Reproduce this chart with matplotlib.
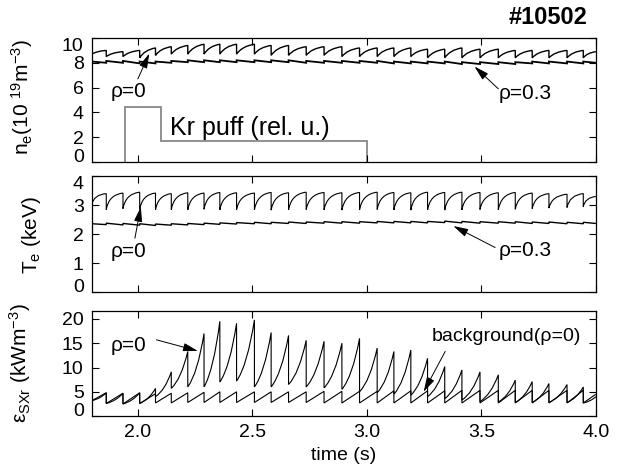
import numpy as np
import matplotlib
matplotlib.use('Agg')
import matplotlib.pyplot as plt
from matplotlib.path import Path
from matplotlib.patches import PathPatch

plt.rcParams['font.family'] = ['Liberation Sans', 'DejaVu Sans']
plt.rcParams['mathtext.fontset'] = 'custom'
plt.rcParams['mathtext.rm'] = 'Liberation Sans'
plt.rcParams['mathtext.it'] = 'Liberation Sans'
NARROW = ['Liberation Sans Narrow', 'Liberation Sans', 'DejaVu Sans']

# sawtooth crash times (s)
crash_t = [1.862, 1.935, 2.008, 2.077, 2.146, 2.218, 2.289, 2.358, 2.431, 2.509,
           2.582, 2.658, 2.735, 2.813, 2.891, 2.968, 3.045, 3.118, 3.192, 3.265,
           3.340, 3.415, 3.494, 3.574, 3.648, 3.722, 3.795, 3.874, 3.945]

# n_e (10^19 m^-3): value before crash / after crash
ne0_pk = [9.0, 8.9, 9.0, 9.2, 9.3, 9.4, 9.5, 9.5, 9.5, 9.5, 9.4, 9.4, 9.3, 9.3, 9.3,
          9.2, 9.2, 9.2, 9.2, 9.1, 9.1, 9.2, 9.1, 9.1, 9.0, 9.0, 9.0, 9.0, 9.0]
ne0_tr = [8.5, 8.5, 8.4, 8.6, 8.7, 8.7, 8.7, 8.7, 8.7, 8.7, 8.6, 8.6, 8.6, 8.6, 8.5,
          8.5, 8.5, 8.5, 8.5, 8.4, 8.4, 8.4, 8.4, 8.4, 8.4, 8.4, 8.4, 8.4, 8.4]
ne03_lo = [8.0, 8.0, 7.95, 7.95, 8.0, 8.05, 8.05, 8.05, 8.05, 8.05, 8.05, 8.05, 8.0, 8.0, 8.0,
           8.0, 8.0, 7.95, 7.95, 7.95, 7.95, 7.9, 7.9, 7.9, 7.9, 7.95, 7.95, 7.95, 7.95]
ne03_hi = [8.15, 8.15, 8.1, 8.1, 8.15, 8.2, 8.2, 8.2, 8.2, 8.2, 8.2, 8.2, 8.15, 8.15, 8.15,
           8.15, 8.15, 8.1, 8.1, 8.1, 8.1, 8.05, 8.05, 8.05, 8.05, 8.1, 8.1, 8.1, 8.1]

# Kr puff (rel. u.)
puff_edges = [1.946, 2.10, 3.0]
puff_level = [4.45, 1.7]

# T_e (keV)
te0_pk = [3.40, 3.42, 3.45, 3.42, 3.40, 3.43, 3.42, 3.44, 3.43, 3.42, 3.44, 3.43, 3.45, 3.44, 3.43,
          3.44, 3.45, 3.44, 3.43, 3.45, 3.44, 3.45, 3.44, 3.43, 3.44, 3.42, 3.40, 3.38, 3.40]
te0_tr = [2.85, 2.88, 2.86, 2.84, 2.85, 2.84, 2.86, 2.84, 2.85, 2.84, 2.83, 2.84, 2.85, 2.84, 2.83,
          2.84, 2.85, 2.84, 2.83, 2.84, 2.83, 2.84, 2.85, 2.84, 2.86, 2.88, 2.90, 2.92, 2.95]
te03_lo = [2.33, 2.32, 2.31, 2.30, 2.31, 2.32, 2.33, 2.34, 2.35, 2.36, 2.36, 2.37, 2.37, 2.38, 2.38,
           2.38, 2.39, 2.39, 2.39, 2.39, 2.40, 2.39, 2.38, 2.38, 2.38, 2.37, 2.37, 2.36, 2.36]
te03_hi = [2.38, 2.37, 2.36, 2.35, 2.36, 2.37, 2.38, 2.39, 2.40, 2.41, 2.41, 2.42, 2.42, 2.43, 2.43,
           2.43, 2.44, 2.44, 2.44, 2.44, 2.45, 2.44, 2.43, 2.43, 2.43, 2.42, 2.42, 2.41, 2.41]

# SXR emissivity (kW m^-3)
sxr_pk = [4.8, 4.7, 4.8, 5.7, 9.1, 13.3, 17.0, 19.5, 19.1, 19.8, 17.2, 16.6, 15.6, 15.4, 15.0,
          16.0, 14.0, 13.3, 13.6, 11.9, 10.2, 9.5, 9.1, 8.5, 7.4, 7.1, 6.7, 6.5, 6.0]
sxr_tr = [2.6, 2.5, 2.6, 4.0, 5.7, 6.0, 6.0, 7.0, 7.2, 6.0, 6.0, 6.5, 6.0, 5.8, 5.5,
          5.0, 4.8, 4.5, 4.3, 4.0, 3.6, 3.3, 3.0, 2.9, 2.8, 2.8, 2.8, 2.8, 2.7]
bg_pk = [4.8, 4.7, 4.8, 4.6, 4.7, 4.8, 4.9, 5.0, 5.0, 5.0, 5.0, 5.0, 5.0, 5.1, 5.1,
         5.1, 5.1, 5.2, 5.2, 5.2, 5.2, 5.3, 5.3, 5.3, 5.3, 5.3, 5.3, 5.3, 5.3]
bg_tr = [2.6, 2.5, 2.6, 2.7, 2.7, 2.8, 2.8, 2.8, 2.8, 2.8, 2.8, 2.8, 2.8, 2.7, 2.7,
         2.7, 2.7, 2.7, 2.7, 2.7, 2.7, 2.7, 2.7, 2.7, 2.7, 2.7, 2.7, 2.7, 2.7]


def saw(ax, start, crash, pk, tr, end, fx=0.5, fy=0.5, lw=0.8):
    # ramp between crashes drawn as a quadratic curve, vertical drop at each crash
    verts = [start]
    codes = [Path.MOVETO]
    pt, pv = start
    for t, p, r in list(zip(crash, pk, tr)) + [(end[0], end[1], None)]:
        verts += [(pt + fx * (t - pt), pv + fy * (p - pv)), (t, p)]
        codes += [Path.CURVE3, Path.CURVE3]
        if r is not None:
            verts.append((t, r))
            codes.append(Path.LINETO)
        pt, pv = t, r
    ax.add_patch(PathPatch(Path(verts, codes), fill=False, ec='k', lw=lw))


def arrow(ax, xy_from, xy_to):
    ax.annotate('', xy=xy_to, xytext=xy_from,
                arrowprops=dict(arrowstyle='-|>,head_length=0.9,head_width=0.25',
                                color='k', lw=0.7, shrinkA=0, shrinkB=0))


fig = plt.figure(figsize=(6.22, 4.75), dpi=100)
ax1 = fig.add_axes([0.148, 0.659, 0.810, 0.261])
ax2 = fig.add_axes([0.148, 0.385, 0.810, 0.244])
ax3 = fig.add_axes([0.148, 0.124, 0.810, 0.221])

for ax in (ax1, ax2, ax3):
    ax.set_xlim(1.8, 4.0)
    ax.set_xticks([2.0, 2.5, 3.0, 3.5, 4.0])
    ax.tick_params(direction='in', top=True, right=True, length=5, width=0.8,
                   labelsize=14, pad=6)
    for s in ax.spines.values():
        s.set_linewidth(0.9)
ax1.tick_params(labelbottom=False)
ax2.tick_params(labelbottom=False)
ax3.set_xticklabels(['2.0', '2.5', '3.0', '3.5', '4.0'])

# panel 1: density
ax1.set_ylim(0, 10)
ax1.set_yticks([0, 2, 4, 6, 8, 10])
saw(ax1, (1.8, 8.7), crash_t, ne0_pk, ne0_tr, (4.0, 8.9), fx=0.3, fy=0.8, lw=1.0)
saw(ax1, (1.8, 8.1), crash_t, ne03_lo, ne03_hi, (4.0, 8.0), lw=1.3)
ax1.stairs(puff_level, puff_edges, baseline=0, color='#888888', lw=1.3)
ax1.text(2.14, 2.75, 'Kr puff (rel. u.)', fontsize=18, va='center')
ax1.text(1.96, 5.7, 'ρ=0', fontsize=15, family=NARROW, ha='center', va='center')
arrow(ax1, (2.0, 6.7), (2.05, 8.75))
ax1.text(3.69, 5.5, 'ρ=0.3', fontsize=15, family=NARROW, ha='center', va='center')
arrow(ax1, (3.574, 5.9), (3.47, 7.7))
ax1.set_ylabel('n$_{e}$(10 $^{19}$m$^{-3}$)', fontsize=15)
ax1.yaxis.set_label_coords(-0.113, 0.52)
fig.text(0.944, 0.964, '#10502', fontsize=17, fontweight='bold', ha='right', va='center')

# panel 2: temperature
ax2.set_ylim(0, 4)
ax2.set_yticks([0, 1, 2, 3, 4])
saw(ax2, (1.8, 3.05), crash_t, te0_pk, te0_tr, (4.0, 3.3), fx=0.15, fy=0.9)
saw(ax2, (1.8, 2.36), crash_t, te03_lo, te03_hi, (4.0, 2.37), lw=1.0)
ax2.text(1.96, 1.39, 'ρ=0', fontsize=15, family=NARROW, ha='center', va='center')
arrow(ax2, (1.987, 1.86), (2.013, 2.94))
ax2.text(3.69, 1.45, 'ρ=0.3', fontsize=15, family=NARROW, ha='center', va='center')
arrow(ax2, (3.56, 1.54), (3.378, 2.28))
ax2.set_ylabel('T$_{e}$ (keV)', fontsize=15)
ax2.yaxis.set_label_coords(-0.097, 0.49)

# panel 3: SXR emissivity
ax3.set_ylim(0, 21.6)
ax3.set_yticks([0, 5, 10, 15, 20])
saw(ax3, (1.8, 3.2), crash_t, sxr_pk, sxr_tr, (4.0, 4.0), fx=0.6, fy=0.25)
saw(ax3, (1.8, 3.2), crash_t, bg_pk, bg_tr, (4.0, 4.5))
ax3.text(1.96, 14.6, 'ρ=0', fontsize=15, family=NARROW, ha='center', va='center')
arrow(ax3, (2.081, 15.7), (2.262, 13.4))
ax3.text(3.61, 16.4, 'background(ρ=0)', fontsize=14, family=NARROW, ha='center', va='center')
arrow(ax3, (3.342, 13.3), (3.248, 5.0))
ax3.set_ylabel('ε$_{SXr}$ (kWm$^{-3}$)', fontsize=15)
ax3.yaxis.set_label_coords(-0.117, 0.5)
ax3.set_xlabel('time (s)', fontsize=14, labelpad=4)

# end tick labels sit inside the frame, as in the original
for ax, shift_top in ((ax1, True), (ax2, True), (ax3, False)):
    labs = ax.get_yticklabels()
    labs[0].set_verticalalignment('baseline')
    if shift_top:
        labs[-1].set_verticalalignment('top')

fig.savefig('out.png', dpi=100)
